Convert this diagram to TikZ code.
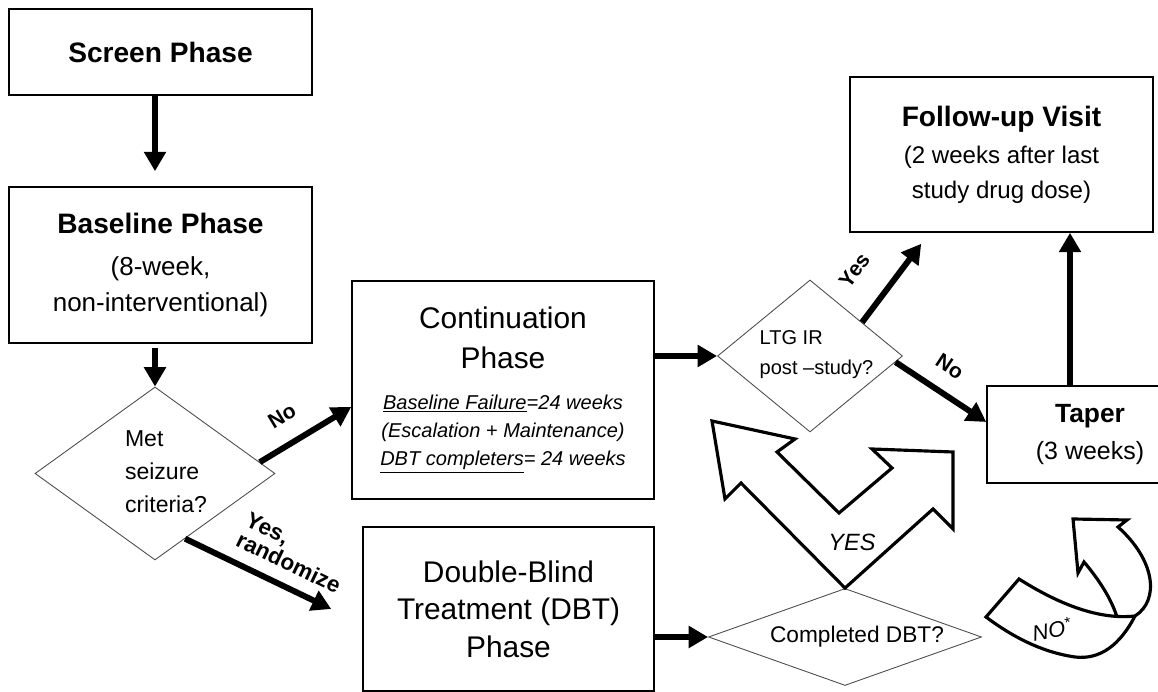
\documentclass[tikz,border=0pt]{standalone}
\usepackage{fontspec}
\setmainfont{Liberation Sans}
\usetikzlibrary{arrows.meta,shapes.geometric,calc}

\begin{document}
\begin{tikzpicture}[
    box/.style={draw, line width=0.9pt, align=center, inner sep=0pt},
    dec/.style={draw=black!70, line width=0.5pt, shape=diamond, inner sep=0pt},
    flow/.style={line width=3.4pt, -{Triangle[length=11pt,width=12pt]}},
    lbl/.style={font=\bfseries\fontsize{12}{13}\selectfont, inner sep=1pt},
    fat/.style={line width=1.8pt}
]
    \useasboundingbox (0,0) rectangle (23.16,13.84);

    % Phases
    \node[box, minimum width=6.06cm, minimum height=1.72cm, font=\bfseries\fontsize{16}{19}\selectfont] (screen) at (3.21,12.80) {Screen Phase};
    \node[box, minimum width=6.06cm, minimum height=3.12cm, font=\fontsize{14.8}{20.5}\selectfont] (base) at (3.21,8.54)
        {\bfseries\fontsize{16}{19}\selectfont Baseline Phase\\[3pt]\mdseries\fontsize{14.8}{20.5}\selectfont (8-week,\\non-interventional)};
    \node[box, minimum width=6.04cm, minimum height=4.36cm, font=\fontsize{11.4}{16}\selectfont] (cont) at (10.06,6.04)
        {\fontsize{17}{22.8}\selectfont Continuation\\[6.8pt]\fontsize{17}{22.8}\selectfont Phase\\[7pt]
         \itshape\fontsize{11.4}{16}\selectfont \underline{Baseline Failure}=24 weeks\\
         \itshape\fontsize{11.4}{16}\selectfont (Escalation + Maintenance)\\
         \itshape\fontsize{11.4}{16}\selectfont \underline{DBT completers}= 24 weeks};
    \node[box, minimum width=5.82cm, minimum height=3.28cm, font=\fontsize{17}{21.3}\selectfont] (dbt) at (10.17,1.66)
        {Double-Blind\\Treatment (DBT)\\Phase};
    \node[box, minimum width=6.06cm, minimum height=3.10cm, font=\fontsize{13.7}{20}\selectfont] (follow) at (20.03,10.75)
        {\bfseries\fontsize{16}{19}\selectfont Follow-up Visit\\[1pt]\mdseries\fontsize{13.7}{20}\selectfont (2 weeks after last\\study drug dose)};
    \node[box, minimum width=4.12cm, minimum height=1.94cm, font=\fontsize{14.2}{21}\selectfont] (taper) at (21.80,5.15)
        {\bfseries\fontsize{15}{18}\selectfont Taper\\\mdseries\fontsize{14.2}{21}\selectfont (3 weeks)};

    % Decisions
    \node[dec, minimum width=4.8cm, minimum height=3.46cm] (met) at (3.10,4.37) {};
    \node[align=left, font=\fontsize{13.1}{18.8}\selectfont] (mettxt) at (3.32,4.40) {Met\\seizure\\criteria?};
    \node[dec, minimum width=3.70cm, minimum height=3.04cm] (ltg) at (16.20,6.72) {};
    \node[align=left, font=\fontsize{11.4}{17}\selectfont] (ltgtxt) at (16.33,6.74) {LTG IR\\post –study?};
    \node[dec, minimum width=5.46cm, minimum height=1.94cm] (done) at (16.90,1.10) {};
    \node[font=\fontsize{12.9}{15}\selectfont] (donetxt) at (17.14,1.10) {Completed DBT?};

    % Connectors
    \coordinate (rndend) at ([xshift=-0.62cm]dbt.west);
    \coordinate (yesend) at ([shift={(1.44,-0.22)}]follow.south west);
    \draw[flow] (screen.south -| met.north) -- ([yshift=0.3cm]base.north -| met.north);
    \draw[flow] ([yshift=-0.08cm]base.south -| met.north) -- (met.north);
    \draw[flow] ($(met.east)!0.13!(met.north)$) -- node[lbl, sloped, above=9pt, pos=0.4] (nolbl) {No} ([yshift=-0.34cm]cont.west);
    \draw[flow] ($(met.east)!0.75!(met.south)$) -- node[lbl, sloped, above=6pt, pos=0.64, align=left, font=\bfseries\fontsize{12.8}{12.5}\selectfont] (rndlbl) {Yes,\\randomize} (rndend);
    \draw[flow] (cont.east |- ltg.west) -- (ltg.west);
    \draw[flow] (dbt.east |- done.west) -- (done.west);
    \draw[flow] ($(ltg.north)!0.56!(ltg.east)$) -- node[lbl, sloped, above=14.5pt, pos=0.375] (ylbl) {Yes} (yesend);
    \draw[flow] ($(ltg.east)!0.08!(ltg.south)$) -- node[lbl, sloped, above=8pt, pos=0.44] (nlbl) {No} ([yshift=0.25cm]taper.west);
    \draw[flow] ([xshift=-0.4cm]taper.north) -- ([xshift=-0.4cm]taper.north |- follow.south);

    % YES block arrow
    \draw[fat] (done.north) -- (14.82,4.18) -- (14.50,3.86) -- (14.24,5.42) -- (15.90,5.06) -- (15.54,4.80)
        -- (16.78,3.58) -- (17.84,4.48) -- (17.44,4.86) -- (19.06,4.80) -- (19.06,3.26) -- (18.66,3.66) -- cycle;
    \node[font=\itshape\fontsize{13.4}{16}\selectfont] (yestxt) at (17.04,3.00) {YES};

    % NO* turn arrow
    \draw[fat] (22.34,1.50) .. controls (22.20,1.94) and (21.90,2.34) .. (21.68,2.60) -- (21.56,2.38) -- (21.46,3.46)
        -- (22.54,3.44) -- (22.36,3.30) .. controls (23.10,2.64) and (23.20,1.84) .. (22.70,1.52)
        .. controls (22.40,0.94) and (22.00,0.64) .. (21.50,0.70) .. controls (20.80,0.80) and (20.20,1.14) .. (19.72,1.50)
        -- (20.38,2.26) .. controls (21.20,1.74) and (22.00,1.44) .. (22.70,1.52);
    \node[font=\itshape\fontsize{12.5}{14}\selectfont, rotate=10] (notxt) at (21.04,1.26) {NO\textsuperscript{*}};
\end{tikzpicture}
\end{document}
